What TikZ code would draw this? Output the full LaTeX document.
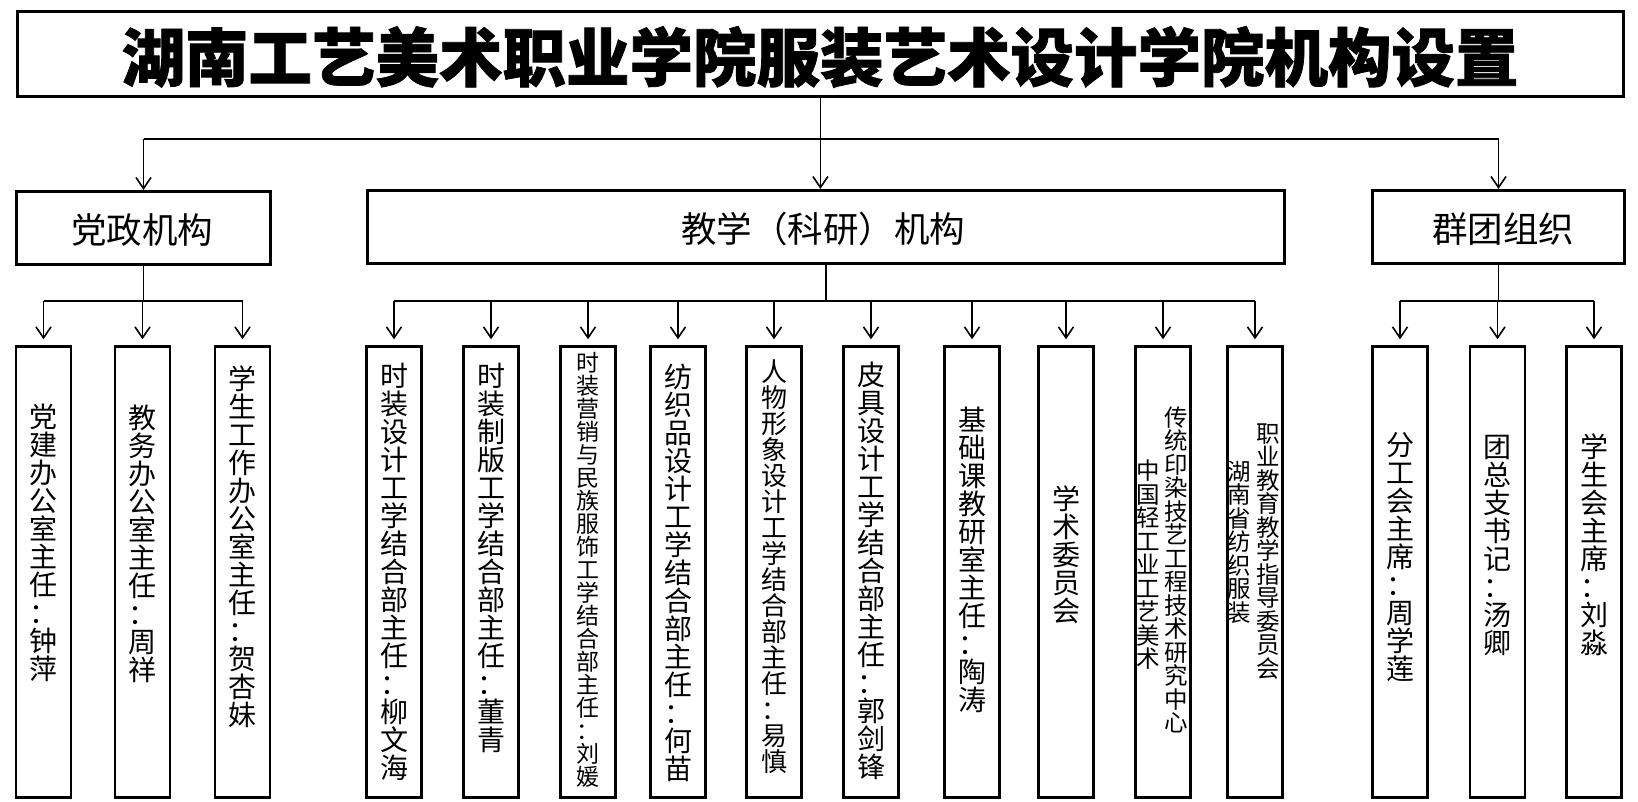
\documentclass[tikz,border=0pt]{standalone}
\usepackage{fontspec}
\setmainfont{Noto Sans CJK SC}
\newfontfamily\titlefont{Noto Sans CJK SC}[FakeBold=1.2]
\usetikzlibrary{arrows.meta}
\def\vtloop#1{\ifx\relax#1\else\hbox to 1em{\vrule height .88em depth .12em width 0pt\hss#1\hss}\expandafter\vtloop\fi}
\newcommand\vtxt[1]{\vbox{\offinterlineskip\vtloop#1\relax}}
\tikzset{
  bigbox/.style={draw, line width=3.2pt, inner sep=0pt},
  midbox/.style={draw, line width=3.2pt, inner sep=0pt, minimum height=73pt},
  sbox/.style={draw, line width=2.6pt, inner sep=0pt, minimum width=55pt, minimum height=451pt, anchor=north},
  vt/.style={inner sep=0pt, font=\fontsize{28}{28}\selectfont},
  vts/.style={inner sep=0pt, font=\fontsize{23.5}{23.5}\selectfont},
  midtxt/.style={inner sep=0pt, font=\fontsize{35.5}{40}\selectfont},
  ln/.style={line width=1.6pt},
  arr/.style={line width=1.6pt, -{Straight Barb[length=11pt,width=15pt]}},
}
\begin{document}
\begin{tikzpicture}[x=1pt,y=-1pt]
\useasboundingbox (0,0) rectangle (1638,801);
% title
\node[bigbox, minimum width=1606pt, minimum height=85pt] (title) at (820.4,53.7) {};
\node[inner sep=0pt, font=\fontsize{63.5}{70}\titlefont\bfseries] (titletxt) at (820,57) {湖南工艺美术职业学院服装艺术设计学院机构设置};
% level 2
\node[midbox, minimum width=254pt] (dz) at (143.5,228) {};
\node[midtxt] (dztxt) at (142,230) {党政机构};
\node[midbox, minimum width=917pt] (jx) at (826,227) {};
\node[midtxt] (jxtxt) at (823,229) {教学（科研）机构};
\node[midbox, minimum width=252pt] (qt) at (1498.5,227) {};
\node[midtxt] (qttxt) at (1503,229) {群团组织};
% connectors level 1 -> 2
\coordinate (busa) at (0,139);
\draw[arr] (title.south) -- (title.south |- jx.north);
\draw[ln] (dz.north |- busa) -- (qt.north |- busa);
\draw[arr] (dz.north |- busa) -- (dz.north);
\draw[arr] (qt.north |- busa) -- (qt.north);
% level 3 boxes
\foreach \n/\x in {d1/43.5,d2/142.5,d3/242.5,
  j1/394,j2/491,j3/588,j4/678,j5/774,j6/871,j7/972,j8/1066,j9/1163,j10/1255,
  q1/1400,q2/1497.5,q3/1594}
  \node[sbox] (\n) at (\x,345.3) {};
% level 3 texts
\node[vt] (d1t) at (43.5,543) {\vtxt{党建办公室主任：钟萍}};
\node[vt] (d2t) at (142.5,544) {\vtxt{教务办公室主任：周祥}};
\node[vt] (d3t) at (242.5,546.5) {\vtxt{学生工作办公室主任：贺杏妹}};
\node[vt] (j1t) at (394,572) {\vtxt{时装设计工学结合部主任：柳文海}};
\node[vt] (j2t) at (491,558) {\vtxt{时装制版工学结合部主任：董青}};
\node[vts, font=\fontsize{23}{23}\selectfont] (j3t) at (588,570) {\vtxt{时装营销与民族服饰工学结合部主任：刘媛}};
\node[vt] (j4t) at (678,573) {\vtxt{纺织品设计工学结合部主任：何苗}};
\node[vt, font=\fontsize{26}{26}\selectfont] (j5t) at (774,566.5) {\vtxt{人物形象设计工学结合部主任：易慎}};
\node[vt] (j6t) at (871,571) {\vtxt{皮具设计工学结合部主任：郭剑锋}};
\node[vt] (j7t) at (972,560) {\vtxt{基础课教研室主任：陶涛}};
\node[vt] (j8t) at (1066,555) {\vtxt{学术委员会}};
\node[vts] (j9r) at (1176.5,570) {\vtxt{传统印染技艺工程技术研究中心}};
\node[vts] (j9l) at (1148,565) {\vtxt{中国轻工业工艺美术}};
\node[vts] (j10r) at (1268,551) {\vtxt{职业教育教学指导委员会}};
\node[vts] (j10l) at (1239.5,542) {\vtxt{湖南省纺织服装}};
\node[vt] (q1t) at (1400,557) {\vtxt{分工会主席：周学莲}};
\node[vt] (q2t) at (1497.5,545) {\vtxt{团总支书记：汤卿}};
\node[vt] (q3t) at (1594,545) {\vtxt{学生会主席：刘淼}};
% connectors level 2 -> 3
\coordinate (busb) at (0,301);
\draw[ln] (dz.south) -- (dz.south |- busb);
\draw[ln] (d1.north |- busb) -- (d3.north |- busb);
\foreach \n in {d1,d2,d3} \draw[arr, shorten >=6pt] (\n.north |- busb) -- (\n.north);
\draw[ln] (jx.south) -- (jx.south |- busb);
\draw[ln] (j1.north |- busb) -- (j10.north |- busb);
\foreach \n in {j1,j2,j3,j4,j5,j6,j7,j8,j9,j10} \draw[arr, shorten >=6pt] (\n.north |- busb) -- (\n.north);
\draw[ln] (qt.south) -- (qt.south |- busb);
\draw[ln] (q1.north |- busb) -- (q3.north |- busb);
\foreach \n in {q1,q2,q3} \draw[arr, shorten >=6pt] (\n.north |- busb) -- (\n.north);
\end{tikzpicture}
\end{document}
